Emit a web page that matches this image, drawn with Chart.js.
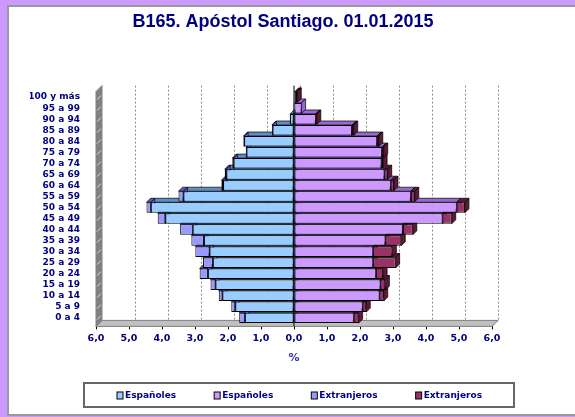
<!DOCTYPE html>
<html>
<head>
<meta charset="utf-8">
<script src="https://cdn.jsdelivr.net/npm/chart.js@4.4.1/dist/chart.umd.min.js"></script>
<style>
  body { margin: 0; background: #cc99ff; }
  #panel { position: absolute; left: 7px; top: 5px; width: 570px; height: 407px; background: #fff;
           border-left: 2px solid #999; border-top: 2px solid #999; border-bottom: 2px solid #999; }
  #wrap { position: absolute; left: 0; top: 0; width: 575px; height: 417px; }
</style>
</head>
<body>
<div id="panel"></div>
<div id="wrap"><canvas id="pyramid" width="575" height="417"></canvas></div>
<script>
// age groups, bottom to top
const ageGroups = ['0 a 4', '5 a 9', '10 a 14', '15 a 19', '20 a 24', '25 a 29', '30 a 34', '35 a 39',
  '40 a 44', '45 a 49', '50 a 54', '55 a 59', '60 a 64', '65 a 69', '70 a 74', '75 a 79',
  '80 a 84', '85 a 89', '90 a 94', '95 a 99', '100 y más'];

// % of population (men are drawn to the left)
const menSpain = [1.49, 1.78, 2.17, 2.38, 2.61, 2.46, 2.56, 2.73, 3.07, 3.90, 4.34, 3.35, 2.15, 2.05, 1.83, 1.44, 1.51, 0.65, 0.12, 0.03, 0.02];
const menForeign = [0.17, 0.12, 0.11, 0.15, 0.25, 0.30, 0.43, 0.38, 0.38, 0.23, 0.13, 0.15, 0.05, 0.05, 0.04, 0.02, 0.02, 0.02, 0.01, 0, 0];
const womenSpain = [1.81, 2.08, 2.59, 2.62, 2.49, 2.40, 2.40, 2.77, 3.30, 4.50, 4.93, 3.54, 2.93, 2.74, 2.65, 2.67, 2.52, 1.76, 0.66, 0.23, 0.05];
const womenForeign = [0.15, 0.11, 0.13, 0.15, 0.21, 0.68, 0.58, 0.48, 0.30, 0.28, 0.25, 0.12, 0.10, 0.10, 0.05, 0.05, 0.05, 0.05, 0.03, 0, 0.05];

const xTicks = [-6, -5, -4, -3, -2, -1, 0, 1, 2, 3, 4, 5, 6];

const navy = '#000080';
const fontTick = { family: 'DejaVu Sans', weight: 'bold', size: 9.5 };

// darker shades for the 3d faces
const sideColors = ['#5c8fc4', '#9a66d0', '#5c5cc4', '#5c1a38'];

// fake 3d: wall, floor, back grid and the depth faces of every bar
const depthPlugin = {
  id: 'depth',
  beforeDatasetsDraw(chart) {
    const { ctx, chartArea: a } = chart;
    const w = 6, d = 4;
    const fb = a.bottom + 3;
    ctx.save();
    // floor
    ctx.fillStyle = '#c0c0c0';
    ctx.strokeStyle = '#808080';
    ctx.beginPath();
    ctx.moveTo(a.left, fb);
    ctx.lineTo(a.right, fb);
    ctx.lineTo(a.right + w, fb - w);
    ctx.lineTo(a.left + w, fb - w);
    ctx.closePath();
    ctx.fill(); ctx.stroke();
    // wall
    ctx.fillStyle = '#808080';
    ctx.beginPath();
    ctx.moveTo(a.left, fb);
    ctx.lineTo(a.left, a.top);
    ctx.lineTo(a.left + w, a.top - w);
    ctx.lineTo(a.left + w, fb - w);
    ctx.closePath();
    ctx.fill(); ctx.stroke();
    ctx.strokeStyle = '#d8d8d8';
    ctx.lineWidth = 1;
    for (let y = a.top + 4; y < a.bottom; y += 11) {
      ctx.beginPath();
      ctx.moveTo(a.left + 1, y + 4);
      ctx.lineTo(a.left + w - 1, y);
      ctx.stroke();
    }
    // dashed grid on the back
    ctx.strokeStyle = '#8c8c8c';
    ctx.setLineDash([2, 2]);
    xTicks.forEach(v => {
      if (v === -6) return;
      const x = chart.scales.x.getPixelForValue(v) + w;
      ctx.beginPath();
      ctx.moveTo(x + 0.5, a.top - w);
      ctx.lineTo(x + 0.5, fb - w);
      ctx.stroke();
    });
    ctx.setLineDash([]);
    ctx.strokeStyle = '#a0a0a0';
    ctx.beginPath();
    ctx.moveTo(a.right, fb);
    ctx.lineTo(a.right + w, fb - w);
    ctx.stroke();
    // bar depth faces
    chart.data.datasets.forEach((ds, i) => {
      const meta = chart.getDatasetMeta(i);
      meta.data.forEach(el => {
        const p = el.getProps(['x', 'y', 'base', 'height'], true);
        const l = Math.min(p.x, p.base), r = Math.max(p.x, p.base);
        if (r - l < 0.5) return;
        const t = p.y - p.height / 2, b = p.y + p.height / 2;
        ctx.fillStyle = sideColors[i];
        ctx.strokeStyle = '#000';
        ctx.lineWidth = 0.7;
        ctx.beginPath();
        ctx.moveTo(l, t); ctx.lineTo(l + d, t - d); ctx.lineTo(r + d, t - d); ctx.lineTo(r, t);
        ctx.closePath(); ctx.fill(); ctx.stroke();
        ctx.beginPath();
        ctx.moveTo(r, t); ctx.lineTo(r + d, t - d); ctx.lineTo(r + d, b - d); ctx.lineTo(r, b);
        ctx.closePath(); ctx.fill(); ctx.stroke();
      });
    });
    ctx.restore();
  },
  afterDatasetsDraw(chart) {
    const { ctx, chartArea: a } = chart;
    const x0 = chart.scales.x.getPixelForValue(0);
    ctx.save();
    ctx.strokeStyle = '#000';
    ctx.lineWidth = 1;
    ctx.beginPath();
    ctx.moveTo(x0, a.top - 6);
    ctx.lineTo(x0, a.bottom + 3);
    ctx.stroke();
    ctx.restore();
  }
};

// boxed legend under the chart
const boxLegend = {
  id: 'boxLegend',
  afterDraw(chart) {
    const ctx = chart.ctx;
    const bx = 84, by = 383, bw = 430, bh = 24;
    ctx.save();
    ctx.strokeStyle = '#666';
    ctx.lineWidth = 2;
    ctx.strokeRect(bx, by, bw, bh);
    ctx.font = 'bold 9px "DejaVu Sans"';
    ctx.textBaseline = 'middle';
    let x = 117;
    chart.data.datasets.forEach(ds => {
      ctx.fillStyle = ds.backgroundColor;
      ctx.strokeStyle = '#000';
      ctx.lineWidth = 1;
      ctx.fillRect(x, by + 9, 6, 7);
      ctx.strokeRect(x, by + 9, 6, 7);
      ctx.fillStyle = navy;
      ctx.fillText(ds.label, x + 8, by + 12.5);
      x += 8 + ctx.measureText(ds.label).width + 38;
    });
    ctx.restore();
  }
};

const ctx = document.getElementById('pyramid').getContext('2d');

let chart = new Chart(ctx, {
  type: 'bar',
  data: {
    labels: ageGroups,
    datasets: [
      { label: 'Españoles', data: menSpain.map(v => -v), backgroundColor: '#99ccff' },
      { label: 'Españoles', data: womenSpain, backgroundColor: '#cc99ff' },
      { label: 'Extranjeros', data: menForeign.map(v => -v), backgroundColor: '#9999ff' },
      { label: 'Extranjeros', data: womenForeign, backgroundColor: '#993366' }
    ].map(ds => Object.assign(ds, {
      borderColor: '#000', borderWidth: 1, borderSkipped: false,
      categoryPercentage: 1, barPercentage: 0.95
    }))
  },
  options: {
    indexAxis: 'y',
    responsive: false,
    animation: false,
    layout: { padding: { left: 30, right: 39, top: 0, bottom: 52 } },
    plugins: {
      legend: { display: false },
      tooltip: { enabled: false },
      title: {
        display: true,
        text: 'B165. Apóstol Santiago. 01.01.2015',
        color: navy,
        font: { family: 'Liberation Sans', weight: 'bold', size: 18 },
        padding: { top: 11, bottom: 59 }
      }
    },
    scales: {
      x: {
        stacked: true,
        min: -6, max: 6,
        afterBuildTicks: s => { s.ticks = xTicks.map(v => ({ value: v })); },
        ticks: {
          color: navy, font: fontTick, padding: 3,
          callback: v => Math.abs(v).toFixed(1).replace('.', ',')
        },
        grid: {
          color: 'rgba(0,0,0,0)', drawTicks: true, tickLength: 6,
          tickColor: '#000', tickBorderDash: []
        },
        border: { display: true, color: '#000' },
        title: {
          display: true, text: '%', color: '#3333aa',
          font: { family: 'DejaVu Sans', weight: 'bold', size: 11 },
          padding: { top: 5, bottom: 0 }
        }
      },
      y: {
        stacked: true,
        reverse: true,
        afterFit: s => { s.width = 66; },
        ticks: { color: navy, font: { family: 'DejaVu Sans', weight: 'bold', size: 9 }, padding: 8, autoSkip: false },
        grid: { display: false },
        border: { display: false }
      },
      y2: {
        type: 'category',
        position: 'right',
        reverse: true,
        afterFit: s => { s.width = 44; },
        ticks: { display: false },
        grid: { display: false },
        border: { display: false }
      }
    }
  },
  plugins: [depthPlugin, boxLegend]
});
</script>
</body>
</html>
